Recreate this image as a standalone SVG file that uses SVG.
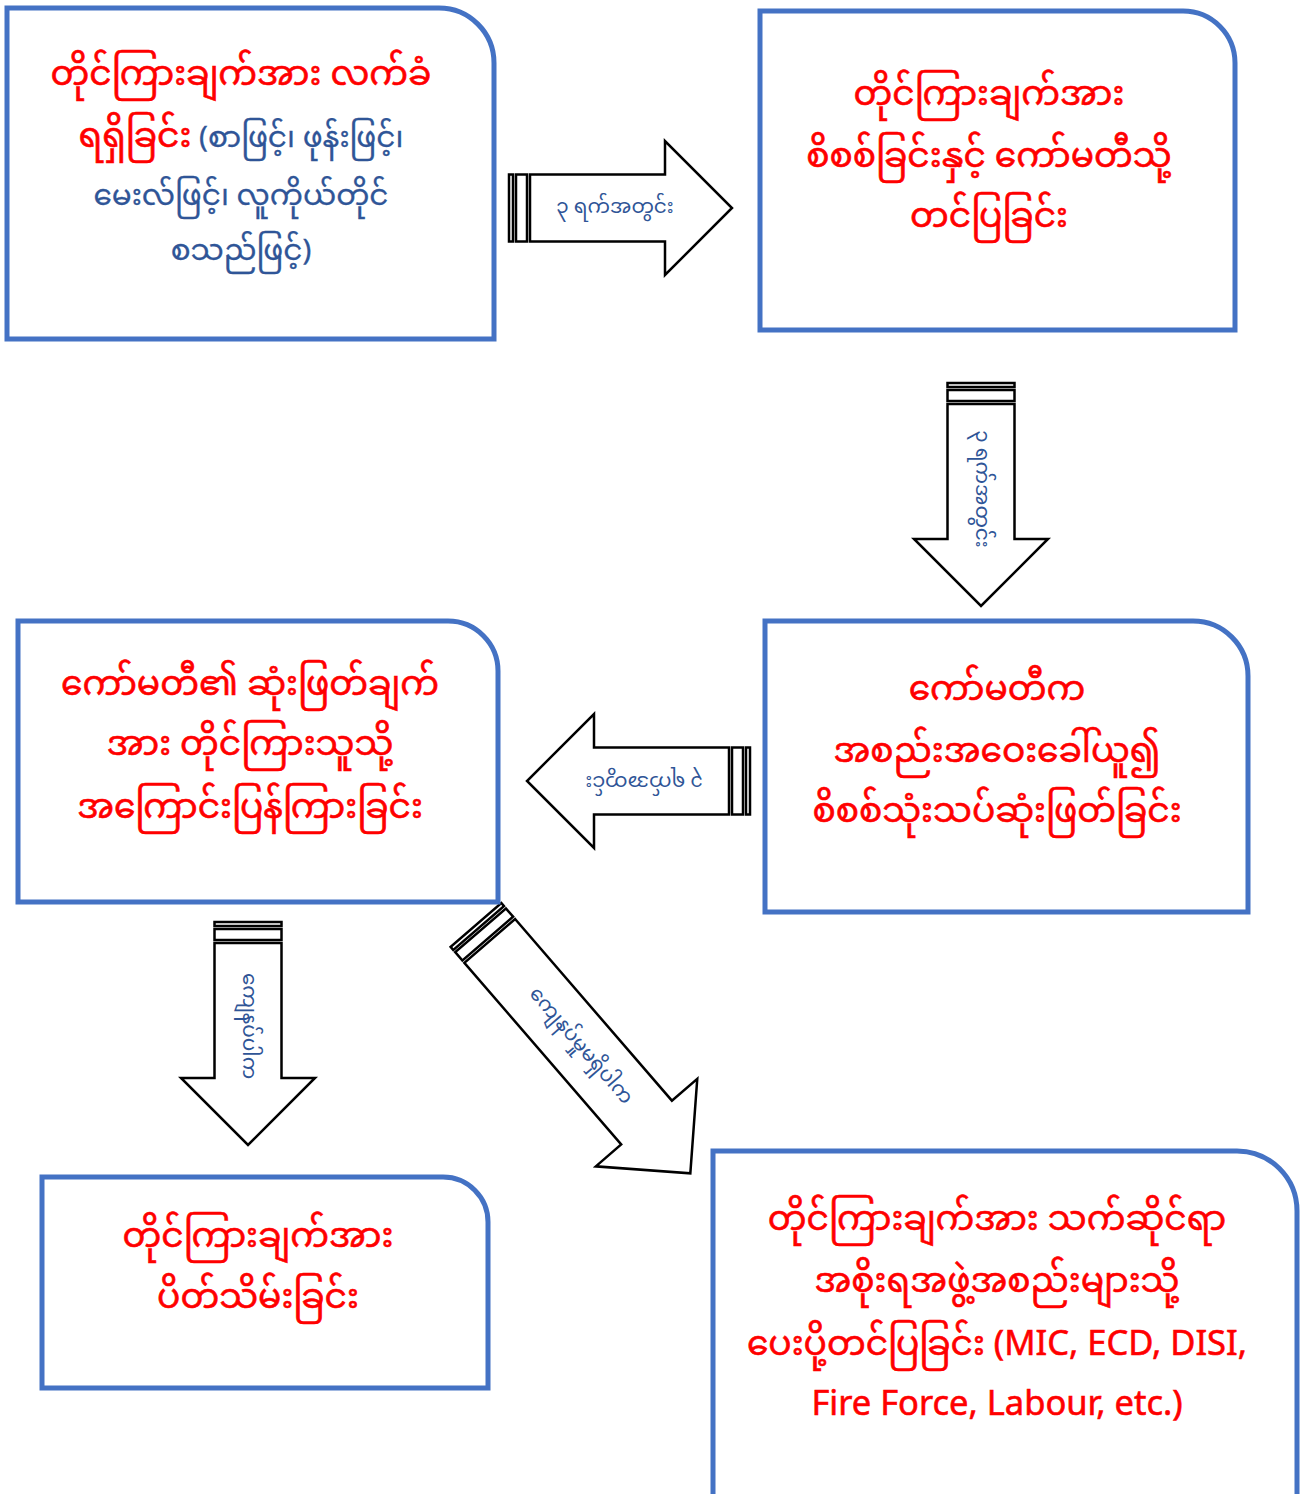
<svg xmlns="http://www.w3.org/2000/svg" width="1303" height="1494" viewBox="0 0 1303 1494">
  <style>
    .box { fill: #ffffff; stroke: #4472C4; stroke-width: 5; }
    .arrow { fill: #ffffff; stroke: #000000; stroke-width: 2.5; stroke-linejoin: miter; }
    .t { font-family: "Noto Sans Myanmar", "Myanmar Text", "Padauk", "Noto Sans", "DejaVu Sans", sans-serif; font-size: 34.5px; fill: #FF0000; stroke: #FF0000; stroke-width: 0.6; text-anchor: middle; }
    .b { fill: #2F5597; stroke: #2F5597; stroke-width: 0.3; font-size: 29.5px; }
    .lbl { font-family: "Noto Sans Myanmar", "Myanmar Text", "Padauk", "Noto Sans", "DejaVu Sans", sans-serif; font-size: 20px; fill: #2F5597; text-anchor: middle; dominant-baseline: middle; }
  </style>
  <defs>
    <!-- striped block arrow, 223 long, pointing along +x from the origin -->
    <g id="arrow223">
      <rect class="arrow" x="0" y="-33.5" width="4" height="67"/>
      <rect class="arrow" x="7" y="-33.5" width="11" height="67"/>
      <path class="arrow" d="M21,-33.5 H156 V-67 L223,0 L156,67 V33.5 H21 Z"/>
    </g>
    <g id="arrow328">
      <rect class="arrow" x="0" y="-33.5" width="4" height="67"/>
      <rect class="arrow" x="7" y="-33.5" width="11" height="67"/>
      <path class="arrow" d="M21,-33.5 H261 V-67 L328,0 L261,67 V33.5 H21 Z"/>
    </g>
  </defs>

  <!-- connectors -->
  <g id="connectors">
    <g transform="translate(509,208)">
      <use href="#arrow223"/>
      <text class="lbl" x="106" y="0">၃ ရက်အတွင်း</text>
    </g>
    <g transform="translate(981,383) rotate(90)">
      <use href="#arrow223"/>
      <text class="lbl" x="106" y="0">၃ ရက်အတွင်း</text>
    </g>
    <g transform="translate(750,781) rotate(180)">
      <use href="#arrow223"/>
      <text class="lbl" x="106" y="0">၃ ရက်အတွင်း</text>
    </g>
    <g transform="translate(248,922) rotate(90)">
      <use href="#arrow223"/>
      <text class="lbl" x="104" y="0">ကျေနပ်ပါက</text>
    </g>
    <g transform="translate(476,925) rotate(49.2)">
      <use href="#arrow328"/>
      <text class="lbl" x="160" y="0">ကျေနပ်မှုမရှိပါက</text>
    </g>
  </g>

  <!-- step 1: complaint received -->
  <g id="node-receive">
    <path class="box" d="M7,8 H439 A55,55 0 0 1 494,63 V339 H7 Z"/>
    <text class="t" x="241" y="85">တိုင်ကြားချက်အား လက်ခံ</text>
    <text class="t" x="241" y="147">ရရှိခြင်း<tspan class="b"> (စာဖြင့်၊ ဖုန်းဖြင့်၊</tspan></text>
    <text class="t b" x="241" y="205">မေးလ်ဖြင့်၊ လူကိုယ်တိုင်</text>
    <text class="t b" x="241" y="260">စသည်ဖြင့်)</text>
  </g>

  <!-- step 2: screening and submission to committee -->
  <g id="node-screen">
    <path class="box" d="M760,11 H1183 A52,52 0 0 1 1235,63 V330 H760 Z"/>
    <text class="t" x="989" y="105">တိုင်ကြားချက်အား</text>
    <text class="t" x="989" y="167">စိစစ်ခြင်းနှင့် ကော်မတီသို့</text>
    <text class="t" x="989" y="227">တင်ပြခြင်း</text>
  </g>

  <!-- step 3: committee meeting and decision -->
  <g id="node-decide">
    <path class="box" d="M765,621 H1193 A55,55 0 0 1 1248,676 V912 H765 Z"/>
    <text class="t" x="997" y="700">ကော်မတီက</text>
    <text class="t" x="997" y="762">အစည်းအဝေးခေါ်ယူ၍</text>
    <text class="t" x="997" y="822">စိစစ်သုံးသပ်ဆုံးဖြတ်ခြင်း</text>
  </g>

  <!-- step 4: reply to complainant -->
  <g id="node-reply">
    <path class="box" d="M18,621 H448 A50,50 0 0 1 498,671 V902 H18 Z"/>
    <text class="t" x="250" y="695">ကော်မတီ၏ ဆုံးဖြတ်ချက်</text>
    <text class="t" x="250" y="755">အား တိုင်ကြားသူသို့</text>
    <text class="t" x="250" y="818">အကြောင်းပြန်ကြားခြင်း</text>
  </g>

  <!-- step 5a: close complaint -->
  <g id="node-close">
    <path class="box" d="M42,1177 H443 A45,45 0 0 1 488,1222 V1388 H42 Z"/>
    <text class="t" x="258" y="1247">တိုင်ကြားချက်အား</text>
    <text class="t" x="258" y="1308">ပိတ်သိမ်းခြင်း</text>
  </g>

  <!-- step 5b: forward to government agencies -->
  <g id="node-forward">
    <path class="box" d="M713,1151 H1237 A60,60 0 0 1 1297,1211 V1500 H713 Z"/>
    <text class="t" x="997" y="1230">တိုင်ကြားချက်အား သက်ဆိုင်ရာ</text>
    <text class="t" x="997" y="1292">အစိုးရအဖွဲ့အစည်းများသို့</text>
    <text class="t" x="997" y="1355">ပေးပို့တင်ပြခြင်း (MIC, ECD, DISI,</text>
    <text class="t" x="997" y="1415">Fire Force, Labour, etc.)</text>
  </g>
</svg>
